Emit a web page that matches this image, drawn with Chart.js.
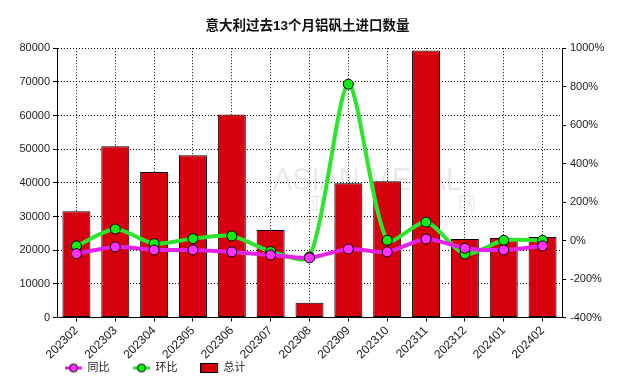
<!DOCTYPE html>
<html>
<head>
<meta charset="utf-8">
<script src="https://cdn.jsdelivr.net/npm/chart.js@4/dist/chart.umd.min.js"></script>
<style>
  html, body { margin: 0; padding: 0; background: #fff; }
  #wrap { width: 633px; height: 387px; }
</style>
</head>
<body>
<div id="wrap"><canvas id="chart" width="633" height="387"></canvas></div>
<script>
const months = ["202302", "202303", "202304", "202305", "202306", "202307", "202308",
  "202309", "202310", "202311", "202312", "202401", "202402"];
const total = [31600, 50900, 43200, 48200, 60300, 26000, 4350, 39900, 40500, 79300, 23300, 23600, 23900];
const yoy = [-68, -33, -49, -49, -59, -75, -90, -44, -59, 8, -40, -49, -28];
const mom = [-28, 60, -16, 10, 24, -57, -85, 813, 1.5, 96, -70, 1.3, 1.3];

const FONT = "'Liberation Sans', Arial, 'Noto Sans CJK SC', sans-serif";

// little legend pictures: line with a dot, and a filled box
function lineIcon(color, fill) {
  const c = document.createElement("canvas");
  c.width = 17; c.height = 11;
  const g = c.getContext("2d");
  g.strokeStyle = color; g.lineWidth = 3;
  g.beginPath(); g.moveTo(0, 5.5); g.lineTo(17, 5.5); g.stroke();
  g.fillStyle = fill; g.strokeStyle = "#000"; g.lineWidth = 1;
  g.beginPath(); g.arc(8.5, 5.5, 4, 0, Math.PI * 2); g.fill(); g.stroke();
  return c;
}
function boxIcon(color) {
  const c = document.createElement("canvas");
  c.width = 18; c.height = 10;
  const g = c.getContext("2d");
  g.fillStyle = color; g.fillRect(0.5, 0.5, 17, 9);
  g.strokeStyle = "#000"; g.lineWidth = 1; g.strokeRect(0.5, 0.5, 17, 9);
  return c;
}

const icons = [lineIcon("#e020e0", "#ff30ff"), lineIcon("#30e030", "#10f010"), boxIcon("#d6000f")];

// legend sits under the rotated month labels, and those labels need room
const fixLayout = {
  id: "fixLayout",
  afterLayout(chart) {
    chart.legend.left = 41.5;
    chart.legend.top = 339;
    chart.scales.x.bottom = 387;
  }
};

// faint watermark
const watermark = {
  id: "watermark",
  beforeDatasetsDraw(chart) {
    const g = chart.ctx;
    g.save();
    g.fillStyle = "rgba(0,0,0,0.09)";
    g.font = "32px " + FONT;
    g.textBaseline = "middle";
    g.fillText("ASIAN METAL", 273, 181, 189);
    g.font = "18px 'Noto Sans CJK SC'";
    const cn = ["亚", "洲", "金", "属", "网"];
    cn.forEach((ch, i) => g.fillText(ch, 310 + i * 37, 203));
    g.restore();
  }
};

const ctx = document.getElementById("chart").getContext("2d");

const chart = new Chart(ctx, {
  data: {
    labels: months,
    datasets: [{
      type: "line",
      label: "同比",
      data: yoy,
      yAxisID: "y1",
      order: 0,
      borderColor: "#e621e6",
      borderWidth: 4,
      pointBackgroundColor: "#ff33ff",
      pointBorderColor: "#000",
      pointBorderWidth: 1,
      pointRadius: 5,
      tension: 0.25
    }, {
      type: "line",
      label: "环比",
      data: mom,
      yAxisID: "y1",
      order: 1,
      borderColor: "#2ee52e",
      borderWidth: 4,
      pointBackgroundColor: "#11ee11",
      pointBorderColor: "#000",
      pointBorderWidth: 1,
      pointRadius: 5,
      tension: 0.25
    }, {
      type: "bar",
      label: "总计",
      data: total,
      yAxisID: "y",
      order: 2,
      backgroundColor: "#d6000f",
      borderColor: "#000",
      borderWidth: 1,
      borderSkipped: false,
      barPercentage: 0.72,
      categoryPercentage: 1
    }]
  },
  options: {
    responsive: false,
    animation: false,
    layout: { padding: { left: 0, right: 18, top: 0, bottom: 5 } },
    plugins: {
      title: {
        display: true,
        text: "意大利过去13个月铝矾土进口数量",
        color: "#111",
        font: { family: FONT, size: 13.5, weight: "bold", lineHeight: 1.2 },
        padding: { top: 18, bottom: 14 }
      },
      legend: {
        position: "bottom",
        align: "start",
        labels: {
          usePointStyle: true,
          pointStyleWidth: 17,
          padding: 23.5,
          color: "#222",
          font: { family: FONT, size: 11 },
          generateLabels: (ch) => ch.data.datasets.map((ds, i) => ({
            text: ds.label,
            pointStyle: icons[i],
            datasetIndex: i,
            hidden: false,
            lineWidth: 0,
            fontColor: "#222"
          }))
        }
      },
      tooltip: { enabled: false }
    },
    scales: {
      x: {
        offset: true,
        grid: {
          offset: false,
          color: "#000",
          drawOnChartArea: true,
          tickLength: 4,
          tickColor: "#000"
        },
        border: { display: true, color: "#000", width: 1, dash: [1, 2] },
        ticks: {
          color: "#222",
          font: { family: FONT, size: 12 },
          minRotation: 45,
          maxRotation: 45,
          padding: 2
        },
        afterFit: (s) => { s.height = 20; }
      },
      y: {
        position: "left",
        min: 0,
        max: 80000,
        grid: { color: "#000", tickLength: 4, tickColor: "#000" },
        border: { display: true, color: "#000", width: 1, dash: [1, 2] },
        ticks: {
          stepSize: 10000,
          color: "#222",
          font: { family: FONT, size: 11 },
          padding: 3,
          callback: (v) => String(v)
        },
        afterFit: (s) => { s.width = 57; }
      },
      y1: {
        position: "right",
        min: -400,
        max: 1000,
        grid: { drawOnChartArea: false, tickLength: 4, tickColor: "#000" },
        border: { display: true, color: "#000", width: 1 },
        ticks: {
          stepSize: 200,
          color: "#222",
          font: { family: FONT, size: 11 },
          padding: 4,
          callback: (v) => v + "%"
        },
        afterFit: (s) => { s.width = 53; }
      }
    }
  },
  plugins: [fixLayout, watermark]
});
</script>
</body>
</html>
